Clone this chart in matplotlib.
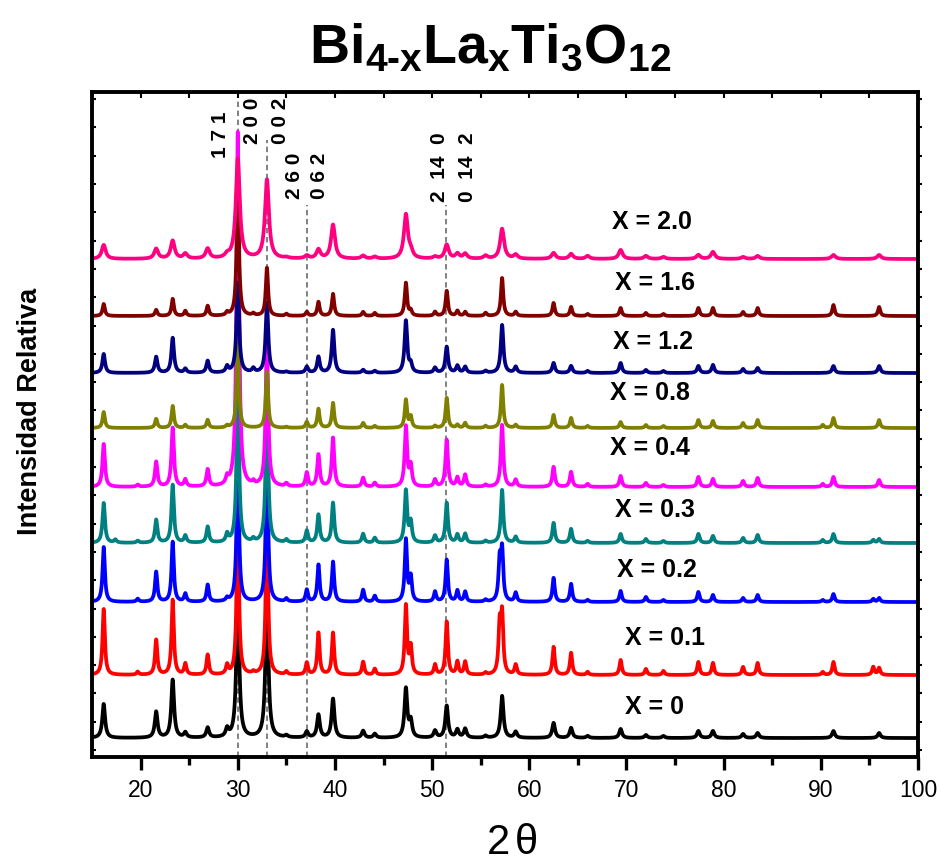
import numpy as np
import matplotlib
matplotlib.use("Agg")
import matplotlib.pyplot as plt

plt.rcParams['font.family'] = ['Liberation Sans', 'DejaVu Sans']
plt.rcParams['mathtext.fontset'] = 'custom'
plt.rcParams['mathtext.rm'] = 'Liberation Sans'
plt.rcParams['mathtext.it'] = 'Liberation Sans:italic'
plt.rcParams['mathtext.bf'] = 'Liberation Sans:bold'

# reflection positions (2 theta)
peak_pos = [16.2, 17.4, 19.7, 21.6, 23.3, 24.6, 26.9, 28.9, 30.0, 31.6,
            33.0, 35.0, 37.1, 38.3, 39.8, 42.9, 44.1, 47.3, 47.8, 50.3,
            51.5, 52.6, 53.4, 55.5, 56.95, 57.2, 58.6, 62.5, 64.3, 66.0,
            69.4, 72.0, 73.8, 77.4, 78.9, 82.0, 83.5, 90.2, 91.3, 95.4, 96.0]

# peak heights for each composition (same order as peak_pos)
h_x00 = [34, 0, 0, 26, 58, 5, 10, 8, 150, 0, 150, 2, 6, 23, 39, 7, 4, 49, 16, 7,
         32, 8, 9, 2, 0, 42, 6, 15, 10, 2, 9, 3, 2, 7, 7, 4, 5, 0, 7, 0, 5]
h_x01 = [66, 0, 3, 35, 75, 11, 20, 9, 160, 2, 160, 3, 12, 42, 42, 13, 6, 69, 27, 10,
         53, 13, 13, 2, 47, 57, 10, 28, 22, 3, 15, 6, 4, 13, 12, 8, 12, 3, 13, 8, 7]
h_x02 = [55, 0, 3, 30, 60, 8, 17, 3, 150, 0, 150, 3, 12, 37, 40, 12, 6, 62, 24, 10,
         42, 11, 10, 2, 39, 49, 9, 24, 18, 2, 11, 5, 2, 10, 7, 4, 7, 2, 8, 3, 4]
h_x03 = [40, 3, 2, 23, 58, 7, 16, 8, 160, 3, 150, 3, 12, 28, 40, 9, 5, 52, 20, 7,
         40, 8, 9, 2, 0, 53, 6, 20, 14, 2, 9, 4, 2, 9, 7, 5, 8, 3, 9, 3, 4]
h_x04 = [43, 0, 2, 25, 59, 7, 17, 7, 355, 3, 150, 3, 14, 32, 49, 9, 4, 60, 20, 7,
         47, 9, 12, 2, 0, 62, 7, 20, 15, 3, 11, 4, 2, 10, 8, 6, 9, 3, 10, 0, 7]
h_x08 = [16, 0, 0, 9, 22, 3, 8, 2, 85, 0, 56, 1, 6, 19, 25, 5, 2, 28, 11, 2,
         30, 3, 5, 2, 0, 43, 3, 13, 10, 2, 6, 3, 2, 8, 7, 5, 8, 3, 10, 0, 8]
h_x12 = [19, 0, 0, 16, 35, 4, 12, 6, 90, 4, 70, 1, 6, 16, 43, 3, 2, 52, 8, 5,
         26, 7, 6, 2, 0, 48, 6, 10, 7, 2, 10, 3, 2, 7, 8, 4, 5, 0, 7, 0, 7]
h_x16 = [12, 0, 0, 6, 17, 5, 10, 3, 130, 2, 48, 2, 4, 14, 22, 4, 3, 33, 5, 4,
         25, 5, 4, 3, 0, 38, 4, 13, 9, 2, 8, 3, 2, 8, 8, 4, 8, 0, 11, 0, 9]
h_x20 = [14, 0, 0, 10, 18, 5, 10, 3, 100, 0, 79, 1, 3, 9, 34, 3, 2, 44, 6, 2,
         14, 5, 5, 3, 0, 30, 4, 6, 5, 3, 9, 3, 2, 4, 7, 2, 3, 0, 4, 0, 4]

heights = [h_x00, h_x01, h_x02, h_x03, h_x04, h_x08, h_x12, h_x16, h_x20]
labels = ['X = 0', 'X = 0.1', 'X = 0.2', 'X = 0.3', 'X = 0.4',
          'X = 0.8', 'X = 1.2', 'X = 1.6', 'X = 2.0']
colors = ['#000000', '#ff0000', '#0000ff', '#008080', '#ff00ff',
          '#808000', '#000080', '#800000', '#ff0080']
offsets = [19, 82, 155, 214, 270, 329, 384, 441, 498]
widths = [0.17, 0.14, 0.14, 0.15, 0.15, 0.14, 0.16, 0.14, 0.24]

label_x = [69.8, 69.8, 69.0, 68.8, 68.3, 68.3, 68.6, 68.8, 68.5]
label_y = [50, 119, 187, 247, 309, 364, 415, 474, 535]

# marked reflections
hkl_lines = [30.0, 33.0, 37.1, 51.45]
hkl_tops = [657, 617, 552, 552]
hkl_text = ['1 7 1', '2 0 0', '0 0 2', '2 6 0', '0 6 2', '2  14  0', '0  14  2']
hkl_tx = [28.2, 31.55, 34.35, 35.8, 38.45, 50.8, 53.6]
hkl_ty = [622, 636, 636, 581, 581, 590, 590]

tt = np.linspace(15, 100, 6000)


def pattern(h, w):
    y = np.zeros_like(tt)
    for p, a in zip(peak_pos, h):
        y += a / (1 + ((tt - p) / w) ** 2)
    return y


fig = plt.figure(figsize=(9.42, 8.63), dpi=100)
ax = fig.add_axes([0.0977, 0.1228, 0.8768, 0.7706])

for xv, top in zip(hkl_lines, hkl_tops):
    ax.plot([xv, xv], [0, top], ls=(0, (3, 2)), color='#777777', lw=1.3, zorder=1)

for h, c, off, w in zip(heights, colors, offsets, widths):
    ax.plot(tt, pattern(h, w) + off, color=c, lw=2.7, zorder=2)

for t, lx, ly in zip(labels, label_x, label_y):
    ax.text(lx, ly, t, fontsize=18, fontweight='bold', ha='left', va='center')

for t, lx, ly in zip(hkl_text, hkl_tx, hkl_ty):
    ax.text(lx, ly, t, fontsize=15, fontweight='bold', rotation=90,
            ha='center', va='center')

ax.set_xlim(15, 100)
ax.set_ylim(0, 665)
ax.set_xticks(np.arange(20, 101, 10))
ax.set_xticks(np.arange(25, 100, 10), minor=True)
ax.set_yticks(7 + 28.3 * np.arange(24))
ax.set_yticklabels([])
ax.tick_params(axis='x', which='major', direction='out', length=9.5, width=2.4,
               labelsize=16.5, pad=6, top=False)
ax.tick_params(axis='x', which='minor', direction='out', length=6, width=2.4, top=False)
ax.tick_params(axis='y', direction='in', length=3, width=1.5, right=False)
for s in ax.spines.values():
    s.set_linewidth(2.8)

top = ax.secondary_xaxis('top')
top.set_xticks(np.arange(20, 101, 5))
top.tick_params(direction='in', length=4, width=1.5, labeltop=False)
right = ax.secondary_yaxis('right')
right.set_yticks(7 + 28.3 * np.arange(24))
right.tick_params(direction='out', length=3, width=1.5, labelright=False)

fig.text(0.52, 0.927, '$\\mathbf{Bi_{4\u2010x}La_xTi_3O_{12}}$', fontsize=40,
         ha='center', va='baseline')
fig.text(0.032, 0.523, 'Intensidad Relativa', fontsize=19.5, fontweight='bold',
         rotation=90, ha='center', va='center')
fig.text(0.543, 0.01, r'$\mathit{2}\,\mathrm{θ}$', fontsize=30, ha='center', va='baseline')

fig.savefig('out.png', dpi=100)
